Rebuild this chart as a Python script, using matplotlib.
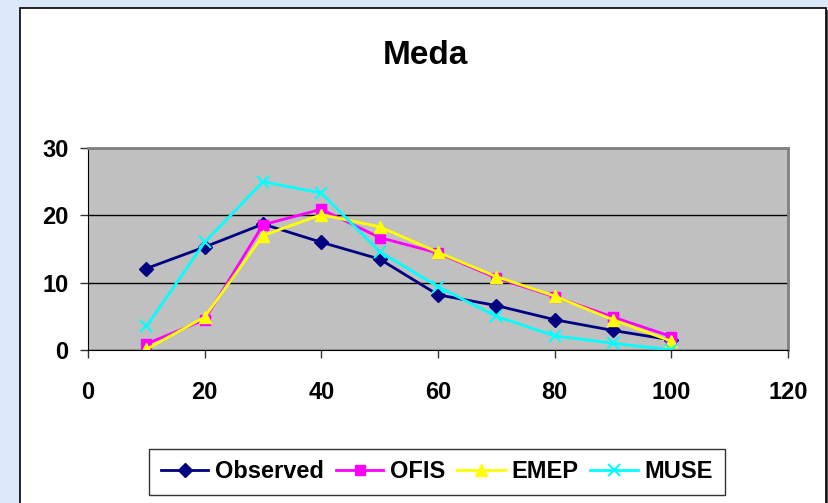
import matplotlib
matplotlib.use("Agg")
import matplotlib.pyplot as plt
from matplotlib.patches import Rectangle

plt.rcParams['font.family'] = ['Liberation Sans', 'DejaVu Sans']
plt.rcParams['font.weight'] = 'bold'

# data
x = [10, 20, 30, 40, 50, 60, 70, 80, 90, 100]
observed = [12.1, 15.3, 18.7, 16.0, 13.5, 8.2, 6.6, 4.5, 2.9, 1.5]
ofis = [0.9, 4.5, 18.6, 20.9, 16.7, 14.4, 10.7, 7.9, 4.9, 2.0]
emep = [0.1, 4.9, 17.0, 20.1, 18.3, 14.5, 10.9, 8.0, 4.5, 1.3]
muse = [3.5, 16.0, 25.0, 23.3, 14.6, 9.4, 5.0, 2.1, 1.0, 0.0]

W, H = 829, 503
fig = plt.figure(figsize=(W / 100, H / 100), dpi=100, facecolor='#dde7fa')

# white chart frame with shadow, drawn behind the axes
fig.patches.append(Rectangle((23 / W, -0.05), 806 / W, (H - 10) / H + 0.05,
                             transform=fig.transFigure, facecolor='#555555',
                             edgecolor='none', zorder=-10))
fig.patches.append(Rectangle((20 / W, -0.05), 806 / W, (H - 8) / H + 0.05,
                             transform=fig.transFigure, facecolor='white',
                             edgecolor='black', linewidth=1.2, zorder=-9))

ax = fig.add_axes([88 / W, (H - 350) / H, 700 / W, 202 / H])
ax.set_facecolor('#c0c0c0')

ax.plot(x, observed, color='#000080', marker='D', markersize=7, lw=2, label='Observed')
ax.plot(x, ofis, color='#ff00ff', marker='s', markersize=7, lw=2, label='OFIS')
ax.plot(x, emep, color='#ffff00', marker='^', markersize=9, lw=2, label='EMEP')
ax.plot(x, muse, color='#00ffff', marker='x', markersize=9, mew=1.5, lw=2, label='MUSE')

ax.set_xlim(0, 120)
ax.set_ylim(0, 30)
ax.set_xticks(range(0, 121, 20))
ax.set_yticks([0, 10, 20, 30])
ax.grid(axis='y', color='black', lw=1)
ax.set_axisbelow(True)
ax.tick_params(direction='out', length=6, width=1, labelsize=17, color='#333333')
ax.tick_params(axis='x', pad=16)
ax.tick_params(axis='y', pad=8)
for s in ['top', 'right']:
    ax.spines[s].set_color('#808080')
    ax.spines[s].set_linewidth(2)
for s in ['left', 'bottom']:
    ax.spines[s].set_color('black')

fig.text(425 / W, 1 - 55 / H, 'Meda', ha='center', va='center', fontsize=24, fontweight='bold')

leg = fig.legend(loc='center', bbox_to_anchor=(437 / W, 1 - 472 / H), ncol=4,
                 fontsize=17, frameon=True, fancybox=False, edgecolor='black',
                 handlelength=2.0, handletextpad=0.3, columnspacing=0.5,
                 borderpad=0.5, borderaxespad=0)
leg.get_frame().set_linewidth(1)

fig.savefig('out.png', dpi=100, facecolor=fig.get_facecolor())
